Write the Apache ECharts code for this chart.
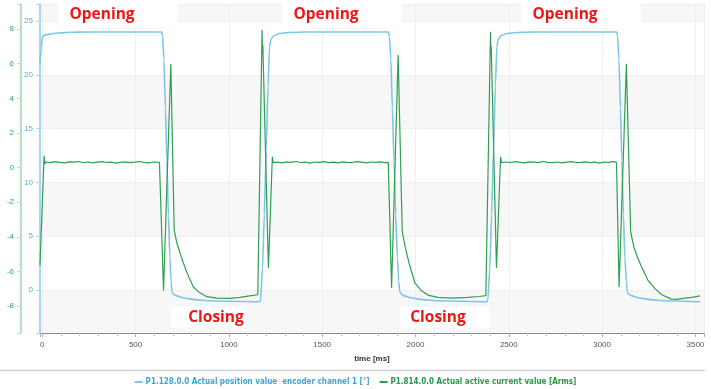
<!DOCTYPE html>
<html>
<head>
<meta charset="utf-8">
<script src="https://cdn.jsdelivr.net/npm/echarts@6/dist/echarts.min.js"></script>
<style>
html,body{margin:0;padding:0;background:#fff;}
#chart{width:711px;height:389px;}
</style>
</head>
<body>
<div id="chart"></div>
<script>
// ---- Data ----
const seriesNames = [
  'P1.128.0.0 Actual position value  encoder channel 1 [°]',
  'P1.814.0.0 Actual active current value [Arms]'
];

// Position (blue, left inner axis)
const posTime = [
  -12, -6, 0, 10, 40, 80, 150, 250, 640,
  645, 652, 660, 668, 676, 684, 690, 695, 700, 720, 760, 820, 900, 1000, 1165,
  1170, 1180, 1190, 1200, 1210, 1218, 1225, 1240, 1270, 1320, 1400, 1855,
  1860, 1868, 1876, 1885, 1894, 1903, 1910, 1916, 1922, 1940, 1980, 2040, 2120, 2250, 2383,
  2388, 2398, 2408, 2418, 2428, 2436, 2443, 2458, 2490, 2540, 2620, 3078,
  3083, 3090, 3098, 3106, 3114, 3122, 3130, 3135, 3140, 3160, 3200, 3260, 3340, 3440, 3525
];
const posValue = [
  21.0, 22.6, 23.5, 23.7, 23.8, 23.9, 23.97, 24.0, 24.0,
  23.6, 21.5, 17, 12, 7, 3, 0.8, -0.2, -0.35, -0.55, -0.75, -0.9, -1.0, -1.05, -1.1,
  -0.9, 2, 7, 13, 19, 22.6, 23.3, 23.65, 23.85, 23.95, 24.0, 24.0,
  23.6, 21.5, 17, 12, 7, 3, 0.8, -0.2, -0.35, -0.55, -0.75, -0.9, -1.0, -1.05, -1.1,
  -0.9, 2, 7, 13, 19, 22.6, 23.3, 23.65, 23.85, 23.95, 24.0, 24.0,
  23.6, 21.5, 17, 12, 7, 3, 0.8, -0.2, -0.35, -0.55, -0.75, -0.9, -1.0, -1.05, -1.1
];

// Current (green, left outer axis)
const curTime = [
  -12, 10, 14, 20, 45, 70, 95, 120, 145, 170, 195, 220, 245, 270, 295, 320, 345, 370, 395, 420, 445, 470, 495, 520, 545, 570, 595, 628,
  650, 689, 707, 720, 740, 756, 780, 810, 840, 882, 935, 1006, 1060, 1110, 1155,
  1178, 1180, 1182, 1212, 1233, 1238,
  1260, 1285, 1310, 1335, 1360, 1385, 1410, 1435, 1460, 1485, 1510, 1535, 1560, 1585, 1610, 1635, 1660, 1685, 1710, 1735, 1760, 1785, 1810, 1835, 1854,
  1872, 1907, 1929, 1945, 1965, 1997, 2030, 2066, 2120, 2200, 2280, 2340, 2377,
  2402, 2404, 2406, 2434, 2456, 2461,
  2485, 2510, 2535, 2560, 2585, 2610, 2635, 2660, 2685, 2710, 2735, 2760, 2785, 2810, 2835, 2860, 2885, 2910, 2935, 2960, 2985, 3010, 3035, 3060, 3077,
  3091, 3130, 3153, 3170, 3190, 3210, 3245, 3282, 3320, 3371, 3400, 3442, 3480, 3525
];
const curValue = [
  -5.65, 0.68, 0.2, 0.32, 0.28, 0.34, 0.30, 0.27, 0.33, 0.31, 0.35, 0.29, 0.32, 0.27, 0.31, 0.34, 0.29, 0.31, 0.26, 0.30, 0.33, 0.28, 0.31, 0.35, 0.30, 0.27, 0.32, 0.30,
  -7.1, 5.98, -3.6, -4.3, -5.0, -5.5, -6.2, -6.9, -7.2, -7.46, -7.55, -7.56, -7.5, -7.42, -7.35,
  7.94, 6.6, 7.1, -5.8, 0.62, 0.28,
  0.31, 0.27, 0.33, 0.30, 0.35, 0.29, 0.31, 0.26, 0.32, 0.30, 0.34, 0.28, 0.31, 0.27, 0.33, 0.30, 0.29, 0.34, 0.31, 0.27, 0.32, 0.30, 0.33, 0.28, 0.30,
  -6.96, 6.5, -3.7, -4.6, -5.5, -6.67, -7.1, -7.37, -7.5, -7.55, -7.5, -7.45, -7.4,
  7.85, 6.6, 7.0, -5.8, 0.62, 0.28,
  0.32, 0.29, 0.34, 0.30, 0.27, 0.33, 0.31, 0.28, 0.35, 0.30, 0.29, 0.32, 0.27, 0.31, 0.34, 0.29, 0.30, 0.33, 0.28, 0.31, 0.26, 0.32, 0.30, 0.34, 0.30,
  -6.9, 6.0, -3.7, -4.6, -5.2, -5.7, -6.5, -6.98, -7.35, -7.6, -7.62, -7.55, -7.5, -7.42
];

const openLabels = ['Opening', 'Opening', 'Opening'];
const closeLabels = ['Closing', 'Closing'];

// ---- Build ----
const posData = posTime.map((t, i) => [t, posValue[i]]);
const curData = curTime.map((t, i) => [t, curValue[i]]);

const BLUE = '#7fc6e6';
const GREEN = '#2f9f52';

function box(x, y, w, h) {
  return { type: 'rect', shape: { x: x, y: y, width: w, height: h }, style: { fill: '#ffffff' }, z: 50, silent: true };
}
function txt(str, x, y) {
  return { type: 'text', x: x, y: y, z: 51, silent: true,
    style: { text: str, fill: '#f01515', fontSize: 15.5, fontWeight: 'bold', fontFamily: '"Open Sans", "Liberation Sans", sans-serif',
      textAlign: 'center', textVerticalAlign: 'middle' } };
}
const plain = v => String(v);

const chart = echarts.init(document.getElementById('chart'), null, { renderer: 'canvas' });
chart.setOption({
  animation: false,
  backgroundColor: '#ffffff',
  textStyle: { fontFamily: '"Liberation Sans", Arial, sans-serif' },
  grid: { left: 40, right: 7, top: 4, bottom: 56 },
  legend: {
    top: 373,
    left: 'center',
    icon: 'rect',
    itemWidth: 8,
    itemHeight: 2,
    itemGap: 10,
    textStyle: { fontSize: 8, fontWeight: 'bold', fontFamily: '"Liberation Sans Narrow", "DejaVu Sans Condensed", sans-serif', padding: [0, 0, 0, -2] },
    data: [
      { name: seriesNames[0], textStyle: { color: '#3aa6d8' } },
      { name: seriesNames[1], textStyle: { color: '#249a48' } }
    ]
  },
  xAxis: {
    type: 'value',
    min: -12,
    max: 3546,
    splitNumber: 7,
    name: 'time [ms]',
    nameLocation: 'middle',
    nameGap: 22,
    nameTextStyle: { fontSize: 8, fontWeight: 'bold', color: '#333' },
    axisLine: { onZero: false, lineStyle: { color: '#8a8a8a', width: 1.2 } },
    axisTick: { length: 4, lineStyle: { color: '#b0b0b0' } },
    minorTick: { show: true, splitNumber: 5, length: 3, lineStyle: { color: '#c8c8c8' } },
    axisLabel: { fontSize: 8, color: '#555', margin: 8, showMinLabel: false, showMaxLabel: false, formatter: plain },
    splitLine: { show: true, lineStyle: { color: '#efefef' } }
  },
  yAxis: [
    {
      type: 'value',
      position: 'left',
      min: -4,
      max: 26.6,
      splitNumber: 6,
      axisLine: { show: true, onZero: false, lineStyle: { color: '#a8d8ee', width: 2 } },
      axisTick: { show: true, length: 4, lineStyle: { color: '#a8d8ee' } },
      minorTick: { show: true, splitNumber: 5, length: 2, lineStyle: { color: '#c4e6f4' } },
      axisLabel: { fontSize: 8, color: '#4db2de', margin: 7, showMinLabel: false, showMaxLabel: false, formatter: plain },
      splitLine: { show: true, lineStyle: { color: '#efefef' } },
      splitArea: { show: true, areaStyle: { color: ['#f7f7f7', '#ffffff'] } }
    },
    {
      type: 'value',
      position: 'left',
      offset: 19,
      min: -9.56,
      max: 9.45,
      splitNumber: 10,
      axisLine: { show: true, onZero: false, lineStyle: { color: '#9fd6ac', width: 1.5 } },
      axisTick: { show: true, length: 4, lineStyle: { color: '#b8e0c2' } },
      minorTick: { show: true, splitNumber: 5, length: 2, lineStyle: { color: '#c8e8d0' } },
      axisLabel: { fontSize: 8, color: '#3aa65a', margin: 7, showMinLabel: false, showMaxLabel: false, formatter: plain },
      splitLine: { show: false },
      splitArea: { show: false }
    }
  ],
  series: [
    {
      name: seriesNames[0],
      type: 'line',
      yAxisIndex: 0,
      data: posData,
      showSymbol: false,
      smooth: 0.2,
      smoothMonotone: 'x',
      lineStyle: { color: BLUE, width: 1.6 },
      itemStyle: { color: BLUE },
      z: 2
    },
    {
      name: seriesNames[1],
      type: 'line',
      yAxisIndex: 1,
      data: curData,
      showSymbol: false,
      lineStyle: { color: GREEN, width: 1.2 },
      itemStyle: { color: GREEN },
      z: 3
    }
  ],
  graphic: [
    { type: 'line', shape: { x1: 0, y1: 370.5, x2: 705, y2: 370.5 }, style: { stroke: '#d2d2d2', lineWidth: 1.5 }, silent: true },
    box(58, 4, 120, 24), txt(openLabels[0], 102, 15),
    box(282, 4, 120, 24), txt(openLabels[1], 326, 15),
    box(521, 4, 120, 24), txt(openLabels[2], 565, 15),
    box(171, 307, 75, 21), txt(closeLabels[0], 216, 318),
    box(400, 307, 90, 21), txt(closeLabels[1], 438, 318)
  ]
});
</script>
</body>
</html>
